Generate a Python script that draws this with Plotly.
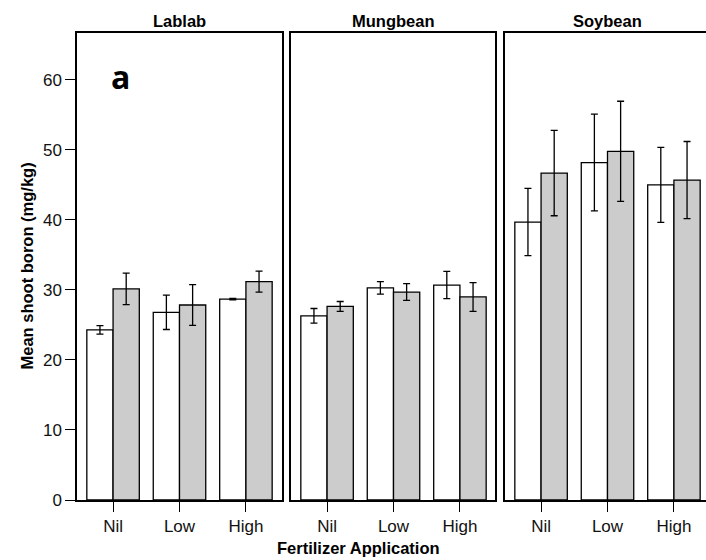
import plotly.graph_objects as go

# Fertilizer levels and crops
levels = ["Nil", "Low", "High"]
crops = ["Lablab", "Mungbean", "Soybean"]

# Mean shoot boron (mg/kg): first series (white) and second series (grey)
white_means = {
    "Lablab": [24.3, 26.8, 28.7],
    "Mungbean": [26.3, 30.3, 30.7],
    "Soybean": [39.7, 48.2, 45.0],
}
white_err = {
    "Lablab": [0.6, 2.45, 0.1],
    "Mungbean": [1.05, 0.9, 1.95],
    "Soybean": [4.8, 6.9, 5.35],
}
grey_means = {
    "Lablab": [30.15, 27.85, 31.2],
    "Mungbean": [27.65, 29.7, 29.0],
    "Soybean": [46.7, 49.8, 45.7],
}
grey_err = {
    "Lablab": [2.25, 2.9, 1.5],
    "Mungbean": [0.7, 1.2, 2.05],
    "Soybean": [6.1, 7.15, 5.5],
}

y_ticks = [0, 10, 20, 30, 40, 50, 60]

FONT = "Liberation Sans, Arial, sans-serif"
W, H = 706, 560
ML, MR, MT, MB = 77, 0, 33, 60
pw = W - ML - MR
# panel pixel extents; the last panel runs off the right edge of the page
panels_px = [(77, 282), (291, 495), (505, 706)]
domains = [[(a - ML) / pw, (b - ML) / pw] for a, b in panels_px]
unit_px = (282 - 77) / 3.086          # pixels per category step
x_lo = -0.543
x_ranges = [[x_lo, x_lo + (b - a) / unit_px] for a, b in panels_px]

fig = go.Figure()
for i, crop in enumerate(crops):
    sfx = "" if i == 0 else str(i + 1)
    xa, ya = "x" + sfx, "y" + sfx
    fig.add_trace(go.Bar(
        x=levels, y=white_means[crop], xaxis=xa, yaxis=ya,
        marker=dict(color="white", line=dict(color="black", width=1.3)),
        error_y=dict(type="data", array=white_err[crop], color="black",
                     thickness=1.3, width=3.5),
        offsetgroup="a", showlegend=False,
    ))
    fig.add_trace(go.Bar(
        x=levels, y=grey_means[crop], xaxis=xa, yaxis=ya,
        marker=dict(color="#cccccc", line=dict(color="black", width=1.3)),
        error_y=dict(type="data", array=grey_err[crop], color="black",
                     thickness=1.3, width=3.5),
        offsetgroup="b", showlegend=False,
    ))
    fig.update_layout(**{
        "xaxis" + sfx: dict(
            domain=domains[i], anchor=ya, type="category",
            range=x_ranges[i], showline=True, mirror=True,
            linecolor="black", linewidth=1.5, ticks="outside",
            ticklen=10, tickwidth=1.3, tickcolor="black",
            tickfont=dict(family=FONT, size=17, color="#111111"),
            showgrid=False, zeroline=False,
        ),
        "yaxis" + sfx: dict(
            domain=[0, 1], anchor=xa, range=[0, 66.7],
            showline=True, mirror=(i < 2), linecolor="black", linewidth=1.5,
            showgrid=False, zeroline=False,
            tickvals=y_ticks if i == 0 else [],
            ticks="outside" if i == 0 else "",
            ticklen=10, tickwidth=1.3, tickcolor="black",
            showticklabels=(i == 0),
            tickfont=dict(family=FONT, size=17, color="#111111"),
        ),
    })
    # crop name centred over the middle category of its panel
    fig.add_annotation(
        text="<b>%s</b>" % crop, xref=xa, yref="paper",
        x=levels[1], y=1, yanchor="bottom", yshift=1,
        showarrow=False, font=dict(family=FONT, size=16.5, color="black"),
    )

fig.update_layout(
    width=W, height=H, barmode="group", bargap=0.21, bargroupgap=0,
    margin=dict(l=ML, r=MR, t=MT, b=MB),
    plot_bgcolor="white", paper_bgcolor="white",
)

fig.add_annotation(
    text="<b>Mean shoot boron (mg/kg)</b>", xref="paper", yref="paper",
    x=0, xshift=-62, y=0.5, textangle=-90, showarrow=False,
    font=dict(family=FONT, size=16.5, color="black"),
)
fig.add_annotation(
    text="<b>Fertilizer Application</b>", xref="paper", yref="paper",
    x=0.447, y=0, yshift=-48, yanchor="middle", showarrow=False,
    font=dict(family=FONT, size=16.5, color="black"),
)
fig.add_annotation(
    text="<b>a</b>", xref="x", yref="y", x=levels[0], y=60.5, xshift=7,
    showarrow=False, yanchor="middle",
    font=dict(family="Open Sans, sans-serif", size=32, color="black"),
)

fig.write_html("out.html")
